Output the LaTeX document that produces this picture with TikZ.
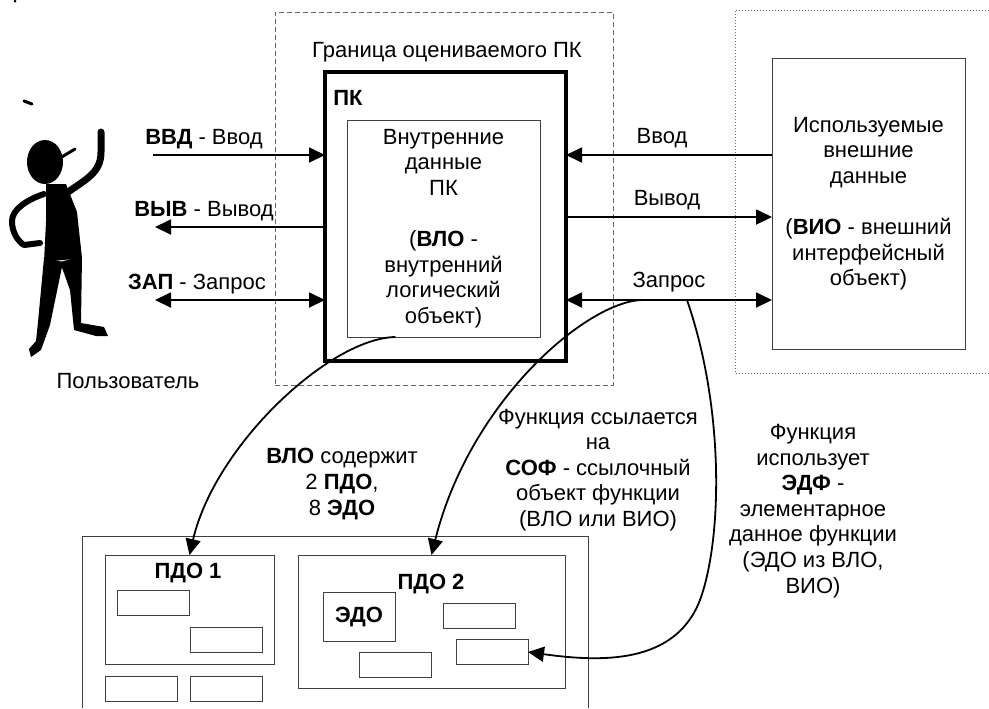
\documentclass[tikz,border=0pt]{standalone}
\usepackage{fontspec}
\setmainfont{Liberation Sans}
\usetikzlibrary{arrows.meta}

\definecolor{framegray}{gray}{0.4}
\definecolor{linegray}{gray}{0.25}

\begin{document}
\begin{tikzpicture}[x=0.5pt,y=-0.5pt,
	font=\fontsize{11}{12.8}\selectfont,
	arr/.style={line width=0.9pt,-{Triangle[length=8pt,width=7.5pt]}},
	darr/.style={line width=0.9pt,{Triangle[length=8pt,width=7.5pt]}-{Triangle[length=8pt,width=7.5pt]}},
	box/.style={draw=linegray,line width=0.5pt,inner sep=0,outer sep=0,align=center},
	cell/.style={box,minimum width=36pt,minimum height=12.5pt},
	lbl/.style={inner sep=0,anchor=base},
	note/.style={inner sep=0,align=center},
	body/.style={line width=3pt,line cap=round,line join=round}]
	\useasboundingbox (0,0) rectangle (989,708);

	\node[draw=framegray,line width=0.5pt,dash pattern=on 2.5pt off 1.5pt,inner sep=0,minimum width=169pt,minimum height=186.5pt] (bound) at (444,198.5) {};
	\node[lbl] (boundTitle) at (447,57) {Граница оцениваемого ПК};
	\draw[framegray,line width=0.5pt,dash pattern=on 0.5pt off 1pt] (989,10) -| (735,373) -- (989,373);

	\node[box,draw=black,line width=1.6pt,minimum width=120.5pt,minimum height=144.5pt] (pk) at (445.5,216.5) {};
	\node[inner sep=0,anchor=west] (pkLabel) at (333,98) {\textbf{ПК}};
	\node[box,minimum width=96.5pt,minimum height=108.5pt] (inner) at (443.5,228.5) {Внутренние\\данные\\ПК\\[12.8pt](\textbf{ВЛО} -\\внутренний\\логический\\объект)};
	\node[box,minimum width=96.5pt,minimum height=145.5pt] (ext) at (868.5,203.5) {Используемые\\внешние\\данные\\[12.8pt](\textbf{ВИО} - внешний\\интерфейсный\\объект)};

	\coordinate (inL) at (153,155);
	\coordinate (outL) at (155,227);
	\coordinate (reqL) at (155,300);
	\coordinate (outR) at (700,217);
	\draw[arr] (inL) -- (inL -| pk.west);
	\draw[arr] (outL -| pk.west) -- (outL);
	\draw[darr] (reqL) -- (reqL -| pk.west);
	\draw[arr] (ext.west |- inL) -- (pk.east |- inL);
	\draw[arr] (pk.east |- outR) -- (ext.west |- outR);
	\draw[darr] (pk.east |- reqL) -- (ext.west |- reqL);

	\node[lbl] (inLbl) at (204,144) {\textbf{ВВД} - Ввод};
	\node[lbl] (outLbl) at (204,216) {\textbf{ВЫВ} - Вывод};
	\node[lbl] (reqLbl) at (197,289) {\textbf{ЗАП} - Запрос};
	\node[lbl] (inRLbl) at (662,143) {Ввод};
	\node[lbl] (outRLbl) at (667,205) {Вывод};
	\node[lbl] (reqRLbl) at (669,287) {Запрос};

	\fill (15,1) circle [radius=1.5];
	\draw[line width=1.5pt,line cap=round] (24,101) -- (32,104);
	\fill (45,162) ellipse [x radius=18,y radius=22];
	\draw[line width=1.5pt,line cap=round] (60,158) -- (75,149);
	\fill (46,184) -- (66,184) -- (77,212) -- (82,258) -- (44,262) -- (46,222) -- cycle;
	\draw[body] (44,194) .. controls (26,200) and (12,210) .. (12,221) .. controls (12,233) and (18,241) .. (24,245) -- (40,243);
	\draw[body,line width=3.5pt] (64,195) .. controls (84,180) and (101,174) .. (101,152) -- (101,132);
	\fill (44,258) -- (63,262) -- (50,325) -- (41,350) -- (31,357) -- (29,349) -- (36,341) -- (38,322) -- cycle;
	\fill (60,262) -- (82,256) -- (81,323) -- (104,327) -- (108,336) -- (96,336) -- (74,330) -- (70,290) -- cycle;
	\node[lbl] (user) at (128,388) {Пользователь};

	\draw[linegray,line width=0.5pt] (82,708) |- (588,536) -- (588,708);
	\node[box,minimum width=84.5pt,minimum height=54.5pt] (pdo1) at (189.5,609.5) {};
	\node[lbl] (pdo1Label) at (188,578) {\textbf{ПДО 1}};
	\node[cell] (a1) at (153.5,602.5) {};
	\node[cell] (a2) at (226,640) {};
	\node[cell] (a3) at (141.5,689) {};
	\node[cell] (a4) at (226,689) {};
	\node[box,minimum width=133.5pt,minimum height=66.5pt] (pdo2) at (431.5,621.5) {};
	\node[lbl] (pdo2Label) at (431,589) {\textbf{ПДО 2}};
	\node[box,minimum width=36pt,minimum height=24.5pt] (edo) at (359,616.5) {\textbf{ЭДО}};
	\node[cell] (b1) at (479.5,616) {};
	\node[cell] (b2) at (492,652) {};
	\node[cell] (b3) at (395,664.5) {};

	\node[note] (contains) at (342,484) {\textbf{ВЛО} содержит\\2 \textbf{ПДО},\\8 \textbf{ЭДО}};
	\node[note] (refNote) at (598,470) {Функция ссылается\\на\\\textbf{СОФ} - ссылочный\\объект функции\\(ВЛО или ВИО)};
	\node[note] (useNote) at (813,511) {Функция\\использует\\\textbf{ЭДФ} -\\элементарное\\данное функции\\(ЭДО из ВЛО,\\ВИО)};

	\coordinate (sofStart) at (645,300);
	\coordinate (edfStart) at (687,300);
	\draw[arr] ([xshift=-24pt]inner.south) .. controls (330,338) and (215,445) .. (pdo1.north);
	\draw[arr] (sofStart) .. controls (590,298) and (470,400) .. (pdo2.north);
	\draw[arr] (edfStart) .. controls (725,410) and (722,540) .. (700,600) .. controls (675,665) and (600,662) .. (b2.east);
\end{tikzpicture}
\end{document}
